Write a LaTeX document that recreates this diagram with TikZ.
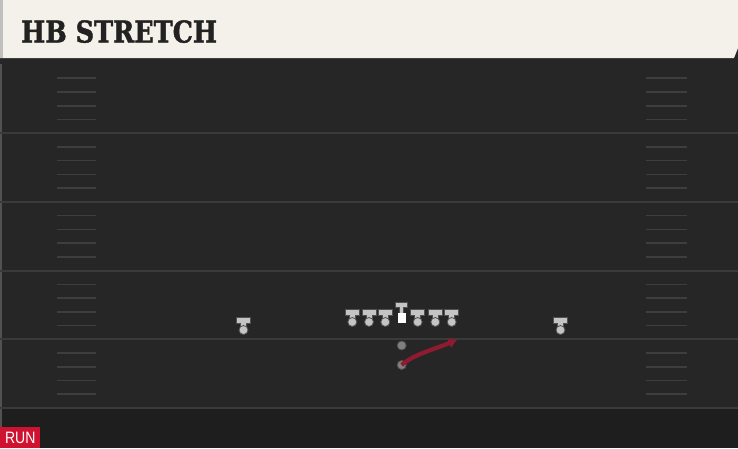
\documentclass[tikz,border=0pt]{standalone}
\usepackage{fontspec}
\usepackage{tikz}
\usetikzlibrary{arrows.meta}
\newfontfamily\titlefont[BoldFeatures={FakeBold=1.6}]{DejaVu Serif}
\newfontfamily\tagfont{Liberation Sans}
\definecolor{fieldbg}{HTML}{262626}
\definecolor{fieldlow}{HTML}{1E1E1E}
\definecolor{headerbg}{HTML}{F4F1EA}
\definecolor{titleink}{HTML}{222222}
\definecolor{linegray}{HTML}{3A3A3A}
\definecolor{hashgray}{HTML}{3E3E3E}
\definecolor{tgray}{HTML}{C4C4C4}
\definecolor{toutline}{HTML}{505050}
\definecolor{dotgray}{HTML}{808080}
\definecolor{runred}{HTML}{8E1B30}
\definecolor{tagred}{HTML}{CE1230}

\begin{document}
\begin{tikzpicture}[
x=1pt,y=-1pt,
yardline/.style={draw=linegray,line width=2pt},
hashmark/.style={draw=hashgray,line width=1.6pt},
tshape/.style={fill=tgray,draw=toutline,line width=0.8pt},
playerdot/.style={
  circle,
  fill=tgray,
  draw=toutline,
  line width=0.8pt,
  minimum size=9pt,
  inner sep=0pt
  },
backdot/.style={playerdot,fill=dotgray},
centerbox/.style={
  rectangle,
  fill=white,
  minimum width=8pt,
  minimum height=10pt,
  inner sep=0pt
  },
runpath/.style={draw=runred,line width=4.2pt,-{Latex[length=9pt,width=11pt]}}
]
\useasboundingbox (0,0) rectangle (738,448);
\fill[fieldbg] (0,0) rectangle (738,448);
\fill[fieldlow] (0,408) rectangle (738,448);
\fill[black!85] (0,58) rectangle (738,64);
\fill[fieldbg!80!white] (0,64) rectangle (2,448);
\foreach \Y in {133.2,201.9,270.6,339.3,408}
  \draw[yardline] (0,\Y) -- (738,\Y);
\foreach \Y in {64.5,133.2,201.9,270.6,339.3}
  \foreach \k in {1,...,4}{
    \draw[hashmark] (57,\Y+\k*13.74) -- (96,\Y+\k*13.74);
    \draw[hashmark] (646,\Y+\k*13.74) -- (687,\Y+\k*13.74);
  }
\fill[headerbg] (0,0) -- (738,0) -- (738,48) -- (734,58) -- (0,58) -- cycle;
\fill[black!25] (0,0) rectangle (2.5,58);
\node[anchor=base west,inner sep=0pt,xscale=0.85,text=titleink,
  font=\titlefont\bfseries\fontsize{30}{30}\selectfont] (title) at (21,42.5) {HB STRETCH};
\foreach \Name/\X/\Y in {lwr/243.5/317.5,lt/352.3/309.5,lg/369/309.5,lc/385.3/309.5,
  rc/417.7/309.5,rg/435.3/309.5,rt/451.7/309.5,rwr/560.5/317.5}{
  \draw[tshape] (\X-7,\Y) -- (\X+7,\Y) -- (\X+7,\Y+6) -- (\X+3,\Y+6)
    -- (\X+3,\Y+12) -- (\X-3,\Y+12) -- (\X-3,\Y+6) -- (\X-7,\Y+6) -- cycle;
  \node[playerdot] (\Name) at (\X,\Y+12.5) {};
}
\draw[tshape] (395.3,302.5) -- (407.7,302.5) -- (407.7,307.5) -- (403.5,307.5)
  -- (403.5,313.5) -- (399.5,313.5) -- (399.5,307.5) -- (395.3,307.5) -- cycle;
\node[centerbox] (ctr) at (401.5,318) {};
\node[backdot] (qb) at (401.7,345.5) {};
\node[backdot] (hb) at (401.7,365) {};
\coordinate (runend) at (457.5,339.5);
\draw[runpath] (hb.center) .. controls (414,354) and (433,350) .. (runend);
\node[anchor=south west,fill=tagred,text=white,minimum width=40pt,minimum height=20.5pt,
  inner sep=0pt,font=\tagfont\fontsize{16.5}{16.5}\selectfont] (tag) at (0,448) {\scalebox{0.85}[1]{RUN}};
\end{tikzpicture}
\end{document}
